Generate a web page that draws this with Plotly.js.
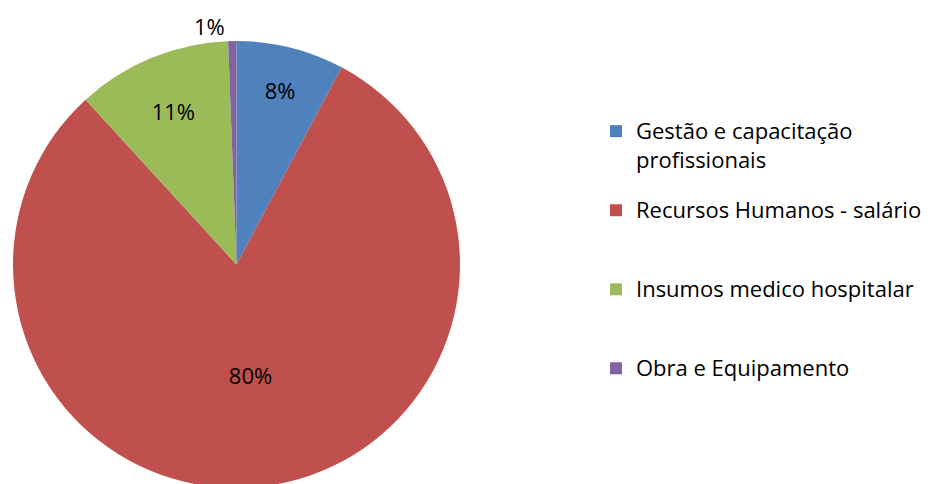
<!DOCTYPE html>
<html>
<head>
<meta charset="utf-8">
<script src="https://cdn.plot.ly/plotly-3.0.1.min.js"></script>
<style>html,body{margin:0;padding:0;overflow:hidden;background:#fff}</style>
</head>
<body>
<div id="chart" style="width:938px;height:490px"></div>
<script>
const categories = ["Gestão e capacitação<br>profissionais", "Recursos Humanos - salário", "Insumos medico hospitalar", "Obra e Equipamento"];
const values = [7.8, 80.4, 11.2, 0.6];
const colors = ["#4F81BD", "#C0504D", "#9BBB59", "#8064A2"];

const W = 938, H = 490;
// legend entries: larger glyphs, wrapped lines nudged down a little,
// padded with blank lines so entries are spaced evenly
const legendLabels = categories.map(c => {
  const lines = c.split("<br>").map((s, i) => i === 0
    ? '<span style="font-size:22px">' + s + '</span>'
    : '<sub><span style="font-size:22px">' + s + '</span></sub>');
  while (lines.length < 3) lines.push(" ");
  return lines.join("<br>");
});

const trace = {
  type: "pie",
  labels: legendLabels,
  values: values,
  marker: {colors: colors, line: {width: 0}},
  sort: false,
  direction: "clockwise",
  rotation: 0,
  texttemplate: "%{percent:.0%}",
  textposition: ["inside", "inside", "inside", "outside"],
  insidetextorientation: "horizontal",
  textfont: {family: "Open Sans, sans-serif", size: 22, color: "#000"},
  hoverinfo: "none",
  domain: {x: [13 / W, 460 / W], y: [(H - 488) / H, (H - 41) / H]}
};

const layout = {
  width: W, height: H,
  margin: {l: 0, r: 0, t: 0, b: 0},
  paper_bgcolor: "#fff",
  showlegend: true,
  legend: {
    x: 596 / W, y: (H - 112) / H, xanchor: "left", yanchor: "top",
    valign: "top",
    font: {family: "Open Sans, sans-serif", size: 19.5, color: "#000"},
    bgcolor: "rgba(0,0,0,0)"
  },
  font: {family: "Open Sans, sans-serif"}
};

Plotly.newPlot("chart", [trace], layout, {staticPlot: true, displayModeBar: false});
</script>
</body>
</html>
